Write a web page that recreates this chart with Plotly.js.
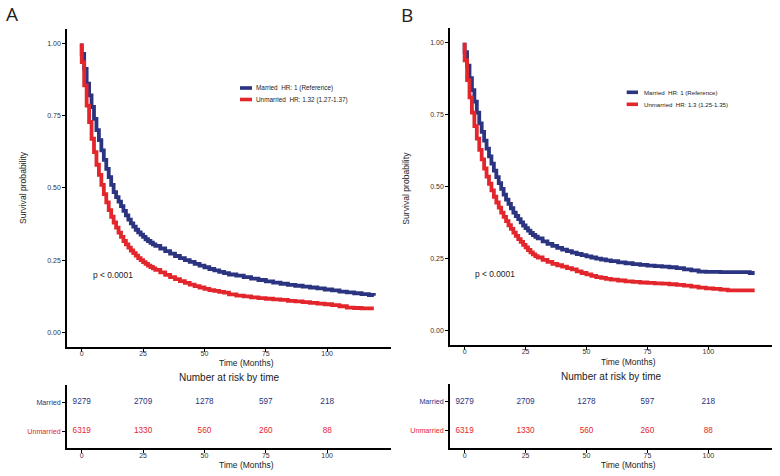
<!DOCTYPE html>
<html>
<head>
<meta charset="utf-8">
<script src="https://cdn.plot.ly/plotly-3.0.1.min.js"></script>
<style>html,body{margin:0;padding:0;background:#fff;}#chart{width:780px;height:476px;}</style>
</head>
<body>
<div id="chart"></div>
<script>
// ---------- DATA ----------
var groups = ["Married", "Unmarried"];
var hrLabelsA = ["Married  HR: 1 (Reference)", "Unmarried  HR: 1.32 (1.27-1.37)"];
var hrLabelsB = ["Married  HR: 1 (Reference)", "Unmarried  HR: 1.3 (1.25-1.35)"];
var pValueText = "p < 0.0001";

// time (months) at which the survival estimates below were read from the figure
var timeGrid = [0,0,1,2,3,4,5,6,7,8,9,10,11,12,13,14,15,16,17,18,19,20,21,22,23,24,25,26,27,28,29,30,
  32,34,36,38,40,42,44,46,48,50,52,54,56,58,60,
  63,66,69,72,75,78,81,84,87,90,93,96,99,102,105,108,111,114,117,119];

var survA_married = [1,0.964,0.912,0.861,0.82,0.78,0.739,0.70,0.665,0.63,0.597,0.566,0.537,0.51,0.485,0.468,0.452,0.437,0.42,0.405,0.39,0.377,0.366,0.355,0.346,0.338,0.33,0.322,0.316,0.31,0.304,0.299,
  0.29,0.281,0.272,0.264,0.257,0.25,0.244,0.237,0.231,0.225,0.219,0.214,0.209,0.205,0.2,
  0.196,0.191,0.186,0.181,0.176,0.172,0.168,0.164,0.161,0.158,0.155,0.152,0.148,0.145,0.141,0.138,0.135,0.132,0.129,0.126];

var survA_unmarried = [1,0.935,0.855,0.785,0.728,0.67,0.624,0.58,0.545,0.51,0.478,0.45,0.423,0.4,0.38,0.362,0.345,0.33,0.316,0.304,0.293,0.283,0.274,0.265,0.257,0.25,0.243,0.237,0.231,0.226,0.221,0.216,
  0.207,0.199,0.191,0.184,0.177,0.171,0.165,0.16,0.155,0.15,0.146,0.143,0.14,0.137,0.131,
  0.127,0.124,0.121,0.118,0.116,0.114,0.112,0.109,0.107,0.104,0.102,0.099,0.097,0.094,0.09,0.085,0.084,0.083,0.083,0.083];

var survB_married = [1,0.967,0.92,0.877,0.835,0.795,0.757,0.72,0.69,0.66,0.632,0.605,0.58,0.556,0.533,0.512,0.492,0.472,0.455,0.44,0.425,0.41,0.398,0.387,0.376,0.365,0.356,0.347,0.339,0.332,0.326,0.32,
  0.31,0.301,0.294,0.287,0.281,0.276,0.271,0.266,0.262,0.258,0.254,0.25,0.247,0.244,0.241,
  0.237,0.234,0.231,0.228,0.226,0.224,0.222,0.22,0.217,0.213,0.209,0.205,0.204,0.204,0.203,0.203,0.203,0.203,0.2,0.2];

var survB_unmarried = [1,0.939,0.87,0.81,0.757,0.71,0.667,0.628,0.595,0.563,0.535,0.51,0.487,0.465,0.445,0.427,0.41,0.395,0.38,0.366,0.353,0.34,0.329,0.318,0.308,0.298,0.289,0.28,0.272,0.265,0.259,0.254,
  0.246,0.239,0.232,0.227,0.222,0.217,0.213,0.206,0.2,0.195,0.19,0.186,0.183,0.18,0.177,
  0.174,0.171,0.169,0.167,0.166,0.164,0.163,0.161,0.159,0.156,0.153,0.149,0.147,0.145,0.142,0.14,0.14,0.14,0.14,0.14];

var riskTimes = [0,25,50,75,100];
var riskMarried = [9279,2709,1278,597,218];
var riskUnmarried = [6319,1330,560,260,88];

var yTicks = [0,0.25,0.5,0.75,1];
var xTicks = [0,25,50,75,100];

// ---------- STYLE ----------
var navy = "#2B3480", red = "#E3262B";
var FONT = "Liberation Sans, Arial, sans-serif";
var W = 780, H = 476;
function px(x){ return x / W; }
function py(y){ return 1 - y / H; }

function curve(t, s, color, xa, ya, name){
  return {x: t, y: s, type: "scatter", mode: "lines", line: {shape: "hv", color: color, width: 3.8},
          xaxis: xa, yaxis: ya, name: name, showlegend: false, hoverinfo: "skip"};
}
function riskRow(vals, row, color, xa, ya){
  return {x: riskTimes, y: riskTimes.map(function(){return row;}), text: vals.map(String), mode: "text",
          type: "scatter", textfont: {family: FONT, size: 8.2, color: color}, xaxis: xa, yaxis: ya,
          showlegend: false, hoverinfo: "skip", cliponaxis: false};
}

var traces = [
  curve(timeGrid, survA_married, navy, "x", "y", groups[0]),
  curve(timeGrid, survA_unmarried, red, "x", "y", groups[1]),
  riskRow(riskMarried, 2, navy, "x2", "y2"),
  riskRow(riskUnmarried, 1, red, "x2", "y2"),
  curve(timeGrid, survB_married, navy, "x3", "y3", groups[0]),
  curve(timeGrid, survB_unmarried, red, "x3", "y3", groups[1]),
  riskRow(riskMarried, 2, navy, "x4", "y4"),
  riskRow(riskUnmarried, 1, red, "x4", "y4")
];

function xax(dom, anchor){
  return {domain: dom, anchor: anchor, range: [-6, 126], tickvals: xTicks, ticks: "outside", ticklen: 3,
          tickwidth: 1, tickcolor: "#000", showline: true, linewidth: 1.8, linecolor: "#000",
          showgrid: false, zeroline: false, ticklabelstandoff: -4,
          tickfont: {family: FONT, size: 7, color: "#333"}};
}
function yax(dom, anchor){
  return {domain: dom, anchor: anchor, range: [-0.05, 1.05], tickvals: yTicks, tickformat: ".2f",
          ticks: "outside", ticklen: 3, tickwidth: 1, tickcolor: "#000", showline: true, linewidth: 1.8,
          linecolor: "#000", showgrid: false, zeroline: false, tickfont: {family: FONT, size: 7, color: "#333"}};
}
function ryax(dom, anchor){
  return {domain: dom, anchor: anchor, range: [0.4, 2.6], tickvals: [2, 1],
          ticktext: ['<span style="color:' + navy + '">' + groups[0] + '</span>',
                     '<span style="color:' + red + '">' + groups[1] + '</span>'],
          ticks: "outside", ticklen: 3, tickwidth: 1, tickcolor: "#000", showline: true, linewidth: 1.8,
          linecolor: "#000", showgrid: false, zeroline: false, tickfont: {family: FONT, size: 7.2}};
}

function ann(text, x, y, size, opts){
  var a = {text: text, x: px(x), y: py(y), xref: "paper", yref: "paper", showarrow: false,
           font: {family: FONT, size: size, color: "#222"}, xanchor: "center", yanchor: "middle"};
  for (var k in (opts || {})) a[k] = opts[k];
  return a;
}

var annotations = [
  ann("A", 12.5, 14, 19, {font: {family: "Open Sans, sans-serif", size: 19, color: "#222"}}),
  ann("B", 406.7, 14.5, 19, {font: {family: "Open Sans, sans-serif", size: 19, color: "#222"}}),
  // panel A
  ann("Survival probability", 23, 188, 8.6, {textangle: -90}),
  ann("Time (Months)", 246.5, 362.5, 8.5),
  ann("Number at risk by time", 228.5, 377, 10),
  ann("Time (Months)", 246.5, 464.5, 8.5),
  ann(pValueText, 90.7, 275, 8.4, {xanchor: "left"}),
  ann(hrLabelsA[0], 254, 88, 6.4, {xanchor: "left"}),
  ann(hrLabelsA[1], 254, 99.5, 6.4, {xanchor: "left"}),
  // panel B
  ann("Survival probability", 405.7, 188, 8.6, {textangle: -90}),
  ann("Time (Months)", 628.8, 361.5, 8.5),
  ann("Number at risk by time", 610.5, 376, 10),
  ann("Time (Months)", 628.8, 464.5, 8.5),
  ann(pValueText, 472.7, 274, 8.4, {xanchor: "left"}),
  ann(hrLabelsB[0], 641.7, 92.3, 6.1, {xanchor: "left"}),
  ann(hrLabelsB[1], 641.7, 104.3, 6.1, {xanchor: "left"})
];

function swatch(x0, x1, y, color){
  return {type: "line", xref: "paper", yref: "paper", x0: px(x0), x1: px(x1), y0: py(y), y1: py(y),
          line: {color: color, width: 3.6}};
}
var shapes = [
  swatch(240, 252, 88, navy), swatch(240, 252, 99.5, red),
  swatch(626.7, 638, 92.3, navy), swatch(626.7, 638, 104.3, red)
];

var layout = {
  width: W, height: H, margin: {l: 0, r: 0, t: 0, b: 0}, paper_bgcolor: "#fff", plot_bgcolor: "#fff",
  showlegend: false, font: {family: FONT},
  xaxis: xax([px(67), px(391)], "y"),
  yaxis: yax([py(346.7), py(29)], "x"),
  xaxis2: xax([px(67), px(391)], "y2"),
  yaxis2: ryax([py(448.3), py(385)], "x2"),
  xaxis3: xax([px(450), px(771.7)], "y3"),
  yaxis3: yax([py(345), py(28.3)], "x3"),
  xaxis4: xax([px(450), px(771.7)], "y4"),
  yaxis4: ryax([py(448.3), py(384.3)], "x4"),
  annotations: annotations,
  shapes: shapes
};

Plotly.newPlot("chart", traces, layout, {displayModeBar: false, staticPlot: true});
</script>
</body>
</html>
